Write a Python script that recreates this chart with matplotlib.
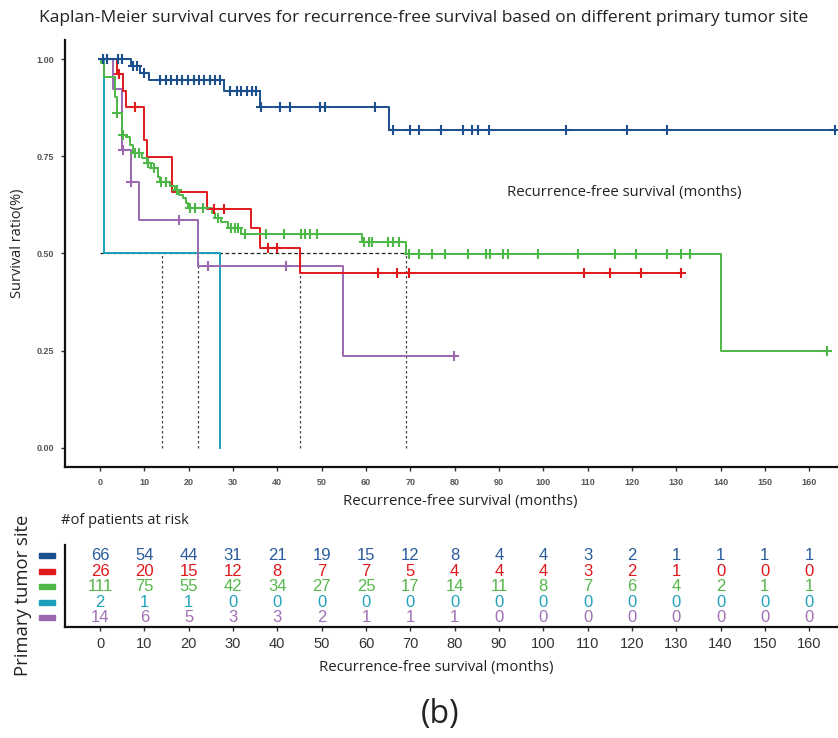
import numpy as np
import matplotlib
matplotlib.use("Agg")
import matplotlib.pyplot as plt
from matplotlib.patches import Rectangle
from matplotlib.transforms import blended_transform_factory

# ---- data ----
groups = ["blue", "red", "green", "cyan", "purple"]
colors = {"blue": "#1b4f8e", "red": "#e0191c", "green": "#4db848",
          "cyan": "#1aa0bd", "purple": "#9c68b0"}
text_colors = {"blue": "#2b5c9c", "red": "#e0191c", "green": "#55b84a",
               "cyan": "#22a2bd", "purple": "#a070b5"}

# event times (months) and survival after each event
blue_t = [0, 7.0, 9.0, 11.1, 28.0, 36.0, 65.1]
blue_s = [1.0, 0.984, 0.966, 0.947, 0.918, 0.878, 0.818]
blue_end = 166.5
blue_cens = [0.7, 1.6, 4.1, 5.0, 7.5, 8.3, 9.9, 13.5, 14.8, 16.0, 17.3, 18.6,
             19.8, 21.1, 22.3, 23.5, 24.8, 26.0, 27.1, 29.3, 30.9, 31.9, 33.1,
             34.2, 35.2, 36.3, 40.6, 42.9, 49.7, 50.8, 62.1, 66.1, 70.0, 71.9,
             77.0, 82.0, 83.9, 85.2, 87.8, 105.1, 119.0, 128.0, 165.9]

red_t = [0, 3.8, 5.1, 5.9, 9.9, 10.7, 16.2, 24.1, 34.0, 36.0, 45.1]
red_s = [1.0, 0.962, 0.919, 0.878, 0.792, 0.748, 0.658, 0.615, 0.565, 0.514, 0.449]
red_end = 131.1
red_cens = [4.2, 7.9, 25.8, 28.0, 37.9, 39.9, 62.8, 67.0, 69.8, 109.1, 115.0,
            122.1, 131.1]

green_t = [0, 0.3, 1.0, 3.4, 3.9, 4.9, 5.9, 6.8, 7.5, 9.4, 10.5, 11.6, 13.1,
           13.6, 15.8, 17.0, 17.9, 18.7, 19.5, 19.9, 25.2, 26.0, 27.4, 28.9,
           31.8, 59.1, 69.1, 140.1]
green_s = [1.0, 0.990, 0.955, 0.904, 0.863, 0.805, 0.799, 0.780, 0.760, 0.745,
           0.732, 0.720, 0.698, 0.685, 0.675, 0.664, 0.651, 0.642, 0.629, 0.617,
           0.604, 0.591, 0.580, 0.565, 0.551, 0.529, 0.499, 0.250]
green_end = 164.0
green_cens = [3.9, 5.1, 7.9, 8.9, 10.9, 12.1, 13.8, 14.9, 17.4, 20.3, 21.5,
              23.3, 26.7, 29.6, 30.4, 31.1, 32.6, 37.5, 41.6, 45.3, 46.3, 47.3,
              48.9, 59.6, 60.6, 61.3, 65.0, 66.1, 67.5, 69.6, 71.9, 74.9, 77.9,
              83.0, 87.1, 88.0, 91.0, 92.0, 98.9, 107.9, 116.1, 121.0, 127.9,
              131.1, 133.0, 164.0]

cyan_t = [0, 1.0, 27.1]
cyan_s = [1.0, 0.5, 0.0]
cyan_end = 27.1
cyan_cens = []

purple_t = [0, 3.0, 5.0, 6.9, 8.9, 22.0, 54.9]
purple_s = [1.0, 0.925, 0.767, 0.683, 0.587, 0.469, 0.235]
purple_end = 79.9
purple_cens = [1.6, 5.2, 6.9, 17.8, 24.4, 41.9, 79.9]

medians = [14.0, 22.1, 45.1, 69.1]

risk_times = list(range(0, 161, 10))
risk_blue = [66, 54, 44, 31, 21, 19, 15, 12, 8, 4, 4, 3, 2, 1, 1, 1, 1]
risk_red = [26, 20, 15, 12, 8, 7, 7, 5, 4, 4, 4, 3, 2, 1, 0, 0, 0]
risk_green = [111, 75, 55, 42, 34, 27, 25, 17, 14, 11, 8, 7, 6, 4, 2, 1, 1]
risk_cyan = [2, 1, 1, 0, 0, 0, 0, 0, 0, 0, 0, 0, 0, 0, 0, 0, 0]
risk_purple = [14, 6, 5, 3, 3, 2, 1, 1, 1, 0, 0, 0, 0, 0, 0, 0, 0]

curves = {
    "blue": (blue_t, blue_s, blue_end, blue_cens),
    "red": (red_t, red_s, red_end, red_cens),
    "green": (green_t, green_s, green_end, green_cens),
    "cyan": (cyan_t, cyan_s, cyan_end, cyan_cens),
    "purple": (purple_t, purple_s, purple_end, purple_cens),
}
risk = {"blue": risk_blue, "red": risk_red, "green": risk_green,
        "cyan": risk_cyan, "purple": risk_purple}

W, H = 838, 738
fig = plt.figure(figsize=(W / 100, H / 100), dpi=100)
ui_font = ["Open Sans", "DejaVu Sans"]
num_font = ["Liberation Sans", "DejaVu Sans"]
xlim = (-7.9, 166.5)


def px_box(l, t, r, b):
    return [l / W, 1 - b / H, (r - l) / W, (b - t) / H]


# ---- main KM plot ----
ax = fig.add_axes(px_box(65, 40, 838, 467))
for g in ["cyan", "purple", "red", "green", "blue"]:
    t, s, end, cens = curves[g]
    tt = list(t) + [end]
    ss = list(s) + [s[-1]]
    ax.plot(tt, ss, drawstyle="steps-post", color=colors[g], lw=1.4, zorder=3)
    if cens:
        cy = np.array(s)[np.searchsorted(t, cens, side="right") - 1]
        ax.plot(cens, cy, ls="none", marker="+", ms=7, mew=1.5,
                color=colors[g], zorder=4)

# median reference lines
ax.plot([0, max(medians)], [0.5, 0.5], ls=(0, (3, 2)), color="#222222", lw=0.9, zorder=2)
for m in medians:
    ax.plot([m, m], [0, 0.5], ls=(0, (2, 2)), color="#444444", lw=0.9, zorder=2)

ax.set_xlim(*xlim)
ax.set_ylim(-0.05, 1.05)
ax.set_xticks(range(0, 161, 10))
ax.set_yticks([0, 0.25, 0.5, 0.75, 1.0])
ax.set_yticklabels(["0.00", "0.25", "0.50", "0.75", "1.00"])
for sp in ["top", "right"]:
    ax.spines[sp].set_visible(False)
for sp in ["left", "bottom"]:
    ax.spines[sp].set_linewidth(1.6)
    ax.spines[sp].set_color("#111111")
ax.tick_params(length=3, width=1, colors="#333333", labelsize=6.5, pad=5)
for lab in ax.get_xticklabels() + ax.get_yticklabels():
    lab.set_family(num_font)
    lab.set_fontweight("bold")
    lab.set_color("#555555")

# ---- risk table ----
ax_r = fig.add_axes(px_box(65, 545, 838, 627))
ax_r.set_xlim(*xlim)
ax_r.set_ylim(4.6, -0.7)
trans = blended_transform_factory(ax_r.transAxes, ax_r.transData)
for i, g in enumerate(groups):
    for x, n in zip(risk_times, risk[g]):
        ax_r.text(x, i, str(n), ha="center", va="center", fontsize=12,
                  family=num_font, color=text_colors[g])
    ax_r.add_patch(Rectangle((-0.0336, i - 0.17), 0.0207, 0.34, transform=trans,
                             color=colors[g], clip_on=False))
ax_r.set_xticks(risk_times)
ax_r.set_yticks([])
for sp in ["top", "right"]:
    ax_r.spines[sp].set_visible(False)
for sp in ["left", "bottom"]:
    ax_r.spines[sp].set_linewidth(1.6)
    ax_r.spines[sp].set_color("#111111")
ax_r.tick_params(axis="x", length=3, width=1, colors="#333333", labelsize=10.5, pad=4)
for lab in ax_r.get_xticklabels():
    lab.set_family(num_font)


# ---- figure texts ----
def ftext(x, y, s, **kw):
    fig.text(x / W, 1 - y / H, s, family=ui_font, color="#222222",
             ha="center", va="center", **kw)


ftext(424, 18, "Kaplan-Meier survival curves for recurrence-free survival based on different primary tumor site",
      fontsize=12.5)
ftext(624, 192, "Recurrence-free survival (months)", fontsize=10.7)
ftext(18, 243, "Survival ratio(%)", fontsize=10.5, rotation=90)
ftext(460, 502, "Recurrence-free survival (months)", fontsize=10.7)
ftext(125, 521, "#of patients at risk", fontsize=10.5)
ftext(23, 595, "Primary tumor site", fontsize=13.3, rotation=90)
ftext(436, 667, "Recurrence-free survival (months)", fontsize=10.7)
ftext(440, 714, "(b)", fontsize=23)

fig.savefig("out.png", dpi=100)
